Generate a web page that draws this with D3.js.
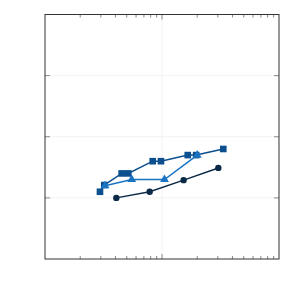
<!DOCTYPE html>
<html lang="en"><head>
<meta charset="utf-8">
<title>Chart</title>
<script src="https://cdn.jsdelivr.net/npm/d3@7"></script>
<style>body{margin:0;background:#fff;}</style>
</head>
<body>
<script type="text/javascript">

var circleX = [4.07, 7.85, 15.3, 30.3];
var circleY = [1.0, 1.10, 1.29, 1.49];
var squareX = [2.95, 3.21, 4.52, 5.15, 8.33, 9.8, 16.6, 19.6, 33.4];
var squareY = [1.10, 1.21, 1.40, 1.40, 1.60, 1.60, 1.70, 1.70, 1.80];
var triX = [3.26, 5.51, 10.5, 20.0];
var triY = [1.20, 1.30, 1.30, 1.70];
var yTicks = [0, 1, 2, 3, 4];

var width = 300, height = 300;
var m = {left: 45, right: 21, top: 14.5, bottom: 41};

var svg = d3.select("body").append("svg")
            .attr("width", width)
            .attr("height", height);

var x = d3.scaleLog().domain([1, 100]).range([m.left, width - m.right]);
var y = d3.scaleLinear().domain([0, 4]).range([height - m.bottom, m.top]);

var majorX = [10];
var minorX = [];
[1, 10].forEach(function(d){
    for (var k = 2; k <= 9; k++) minorX.push(d * k);
});

// grid
svg.selectAll("line.gx").data(majorX).enter().append("line")
    .attr("x1", d => x(d)).attr("x2", d => x(d))
    .attr("y1", y(0)).attr("y2", y(4))
    .attr("stroke", "#f2f2f2").attr("stroke-width", 1);
svg.selectAll("line.gy").data(yTicks.slice(1, -1)).enter().append("line")
    .attr("x1", x(1)).attr("x2", x(100))
    .attr("y1", d => y(d)).attr("y2", d => y(d))
    .attr("stroke", "#f2f2f2").attr("stroke-width", 1);

// ticks (inward, all sides)
var tk = svg.append("g").attr("stroke", "#888").attr("stroke-width", 1);
yTicks.slice(1, -1).forEach(function(d){
    tk.append("line").attr("x1", x(1)).attr("x2", x(1) + 5).attr("y1", y(d)).attr("y2", y(d));
    tk.append("line").attr("x1", x(100)).attr("x2", x(100) - 5).attr("y1", y(d)).attr("y2", y(d));
});
majorX.forEach(function(d){
    tk.append("line").attr("x1", x(d)).attr("x2", x(d)).attr("y1", y(0)).attr("y2", y(0) - 5);
    tk.append("line").attr("x1", x(d)).attr("x2", x(d)).attr("y1", y(4)).attr("y2", y(4) + 5);
});
minorX.forEach(function(d){
    tk.append("line").attr("x1", x(d)).attr("x2", x(d)).attr("y1", y(0)).attr("y2", y(0) - 3);
    tk.append("line").attr("x1", x(d)).attr("x2", x(d)).attr("y1", y(4)).attr("y2", y(4) + 3);
});

// frame
svg.append("rect")
    .attr("x", x(1)).attr("y", y(4))
    .attr("width", x(100) - x(1)).attr("height", y(0) - y(4))
    .attr("fill", "none").attr("stroke", "#333").attr("stroke-width", 1);

var line = d3.line().x(d => x(d[0])).y(d => y(d[1]));

function series(xs, ys, color, shape, size) {
    var pts = xs.map((v, i) => [v, ys[i]]);
    svg.append("path").datum(pts)
        .attr("d", line).attr("fill", "none")
        .attr("stroke", color).attr("stroke-width", 1.5);
    svg.selectAll(null).data(pts).enter().append("path")
        .attr("transform", d => "translate(" + x(d[0]) + "," + y(d[1]) + ")")
        .attr("d", d3.symbol().type(shape).size(size))
        .attr("fill", color);
}

series(squareX, squareY, "#0b4f8f", d3.symbolSquare, 44);
series(triX, triY, "#1a73c2", d3.symbolTriangle, 34);
series(circleX, circleY, "#0a2a48", d3.symbolCircle, 32);

</script>
</body></html>
